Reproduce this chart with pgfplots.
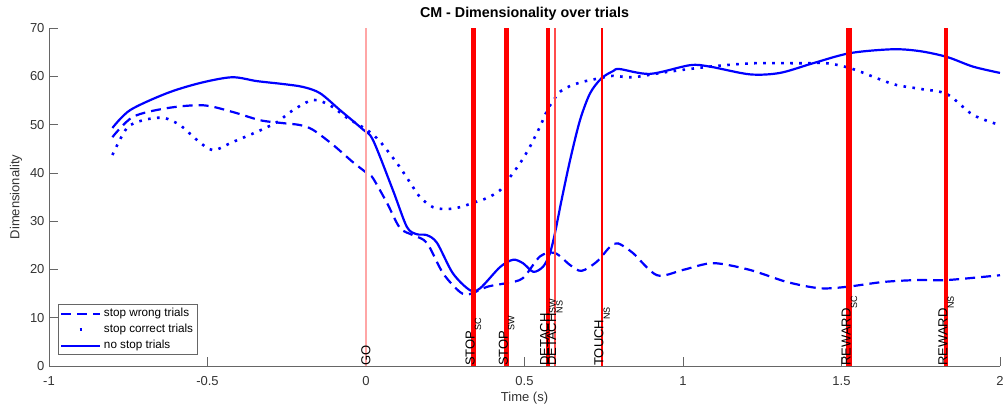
\documentclass[border=0pt]{standalone}
\usepackage{pgfplots}
\pgfplotsset{compat=1.18}
\usepackage{fontspec}
\setmainfont{Liberation Sans}
\newcommand{\ev}[2]{#1\raisebox{-6.5pt}{\fontsize{9}{10}\selectfont #2}}
\pgfplotsset{dotlegend/.style={legend image code/.code={\draw[##1, solid] (18.2pt,0pt) -- (20.8pt,0pt);}}}
\begin{document}
\begin{tikzpicture}
\begin{axis}[
 scale only axis, width=951pt, height=338pt,
 xmin=-1, xmax=2, ymin=0, ymax=70,
 axis x line=bottom, axis y line=left,
 axis line style={-, black!60, line width=0.6pt},
 tick style={black!60, line width=0.6pt},
 tick align=inside, major tick length=9pt,
 xtick={-1,-0.5,0,0.5,1,1.5,2},
 xticklabels={-1,-0.5,0,0.5,1,1.5,2},
 ytick={0,10,20,30,40,50,60,70},
 yticklabels={0,10,20,30,40,50,60,70},
 ticklabel style={font=\fontsize{13}{15}\selectfont, text=black!80},
 xticklabel style={anchor=base, yshift=-19.5pt},
 yticklabel style={xshift=-1pt},
 xlabel={Time (s)}, ylabel={Dimensionality},
 label style={font=\fontsize{13}{15}\selectfont, text=black!80},
 xlabel style={at={(axis description cs:0.5,-0.1036)}, anchor=base},
 ylabel style={at={(axis description cs:-0.0347,0.5)}, anchor=center},
 title={CM - Dimensionality over trials},
 title style={font=\bfseries\fontsize{14.3}{16}\selectfont, at={(axis description cs:0.5,1)}, anchor=base, yshift=5pt},
 legend style={at={(axis description cs:0.00946,0.0325)}, anchor=south west, draw=black!60, line width=0.6pt, fill=white,
   font=\fontsize{11.7}{14}\selectfont, inner xsep=2pt, inner ysep=1pt, row sep=0pt,
   nodes={text height=8.5pt, text depth=2.5pt, inner sep=2.5pt}},
 legend cell align=left,
 legend image code/.code={\draw[#1] (0pt,0pt) -- (39pt,0pt);},
]
% stop wrong trials
\addplot[blue, line width=2.2pt, dash pattern=on 10pt off 6pt, smooth] coordinates {
(-0.80,47.4) (-0.735,51.6) (-0.628,53.4) (-0.514,54.0) (-0.42,52.6) (-0.334,50.9) (-0.262,50.3)
(-0.208,49.9) (-0.167,48.9) (-0.104,45.8) (-0.041,42.2) (0.006,39.8) (0.022,38.9) (0.066,33.8)
(0.107,28.6) (0.148,27.1) (0.192,25.5) (0.243,19.2) (0.297,15.3) (0.328,14.9) (0.382,16.4)
(0.445,17.2) (0.495,18.2) (0.549,22.7) (0.596,23.4) (0.644,20.9) (0.68,19.7) (0.728,21.6)
(0.77,24.7) (0.795,25.4) (0.842,23.4) (0.918,18.8) (1.0,19.9) (1.095,21.3) (1.211,19.9) (1.328,17.4)
(1.432,16.1) (1.517,16.4) (1.631,17.4) (1.738,17.8) (1.833,17.8) (2.0,18.8)};
\addlegendentry{stop wrong trials}
% stop correct trials
\addplot[blue, line width=2.6pt, dash pattern=on 2.6pt off 6.4pt, line cap=butt, smooth, dotlegend] coordinates {
(-0.80,43.7) (-0.754,49.3) (-0.703,50.9) (-0.64,51.4) (-0.587,49.9) (-0.533,46.8) (-0.483,44.7)
(-0.42,46.4) (-0.344,48.5) (-0.281,50.5) (-0.23,53.0) (-0.167,55.1) (-0.114,54.0) (-0.06,51.4)
(0.003,48.9) (0.044,46.5) (0.1,41.8) (0.139,38.0) (0.17,35.0) (0.211,32.9) (0.255,32.5)
(0.297,32.9) (0.338,33.8) (0.382,34.8) (0.423,36.4) (0.454,39.1) (0.486,42.0) (0.517,45.4)
(0.549,49.6) (0.565,52.0) (0.578,53.7) (0.593,55.2) (0.612,56.8) (0.644,58.0) (0.686,58.9)
(0.738,59.6) (0.78,60.1) (0.842,59.8) (0.95,60.9) (1.085,62.0) (1.221,62.7) (1.369,62.7)
(1.454,62.7) (1.536,61.5) (1.662,58.4) (1.748,57.4) (1.833,56.3) (1.915,52.0) (2.0,49.9)};
\addlegendentry{stop correct trials}
% no stop trials
\addplot[blue, line width=2.2pt, smooth] coordinates {
(-0.80,49.3) (-0.744,53.0) (-0.628,56.5) (-0.524,58.6) (-0.423,59.8) (-0.344,59.0) (-0.262,58.4)
(-0.199,57.8) (-0.145,56.5) (-0.082,53.0) (-0.01,49.0) (0.022,46.8) (0.085,36.4) (0.129,28.8)
(0.16,27.3) (0.192,27.1) (0.224,25.5) (0.274,19.2) (0.328,15.7) (0.36,16.1) (0.423,20.5)
(0.464,22.0) (0.495,21.3) (0.528,19.5) (0.559,20.6) (0.58,23.3) (0.596,27.5) (0.617,34.4)
(0.644,42.7) (0.675,50.9) (0.707,56.5) (0.743,59.6) (0.78,61.1) (0.80,61.5) (0.896,60.5)
(1.022,62.3) (1.085,62.0) (1.211,60.4) (1.306,60.7) (1.41,62.7) (1.527,64.8) (1.662,65.6)
(1.748,65.2) (1.833,64.0) (1.915,62.0) (2.0,60.7)};
\addlegendentry{no stop trials}
% event lines
\addplot[red!35, line width=1.6pt, forget plot] coordinates {(0,0) (0,70)};
\addplot[red, line width=5pt, forget plot] coordinates {(0.339,0) (0.339,70)};
\addplot[red, line width=5pt, forget plot] coordinates {(0.444,0) (0.444,70)};
\addplot[red, line width=4pt, forget plot] coordinates {(0.574,0) (0.574,70)};
\addplot[red!70, line width=1.8pt, forget plot] coordinates {(0.596,0) (0.596,70)};
\addplot[red, line width=2pt, forget plot] coordinates {(0.745,0) (0.745,70)};
\addplot[red, line width=6pt, forget plot] coordinates {(1.525,0) (1.525,70)};
\addplot[red, line width=3.6pt, forget plot] coordinates {(1.83,0) (1.83,70)};
\begin{scope}[every node/.style={rotate=90, anchor=west, inner sep=0pt, font=\fontsize{13}{15}\selectfont}]
\node at (axis cs:0,0) {GO};
\node at (axis cs:0.339,0) {\ev{STOP}{SC}};
\node at (axis cs:0.444,0) {\ev{STOP}{SW}};
\node at (axis cs:0.574,0) {\ev{DETACH}{SW}};
\node at (axis cs:0.596,0) {\ev{DETACH}{NS}};
\node at (axis cs:0.745,0) {\ev{TOUCH}{NS}};
\node at (axis cs:1.525,0) {\ev{REWARD}{SC}};
\node at (axis cs:1.83,0) {\ev{REWARD}{NS}};
\end{scope}
\end{axis}
\pgfresetboundingbox
\path (-49pt,-42pt) rectangle (954pt,366pt);
\end{tikzpicture}
\end{document}
